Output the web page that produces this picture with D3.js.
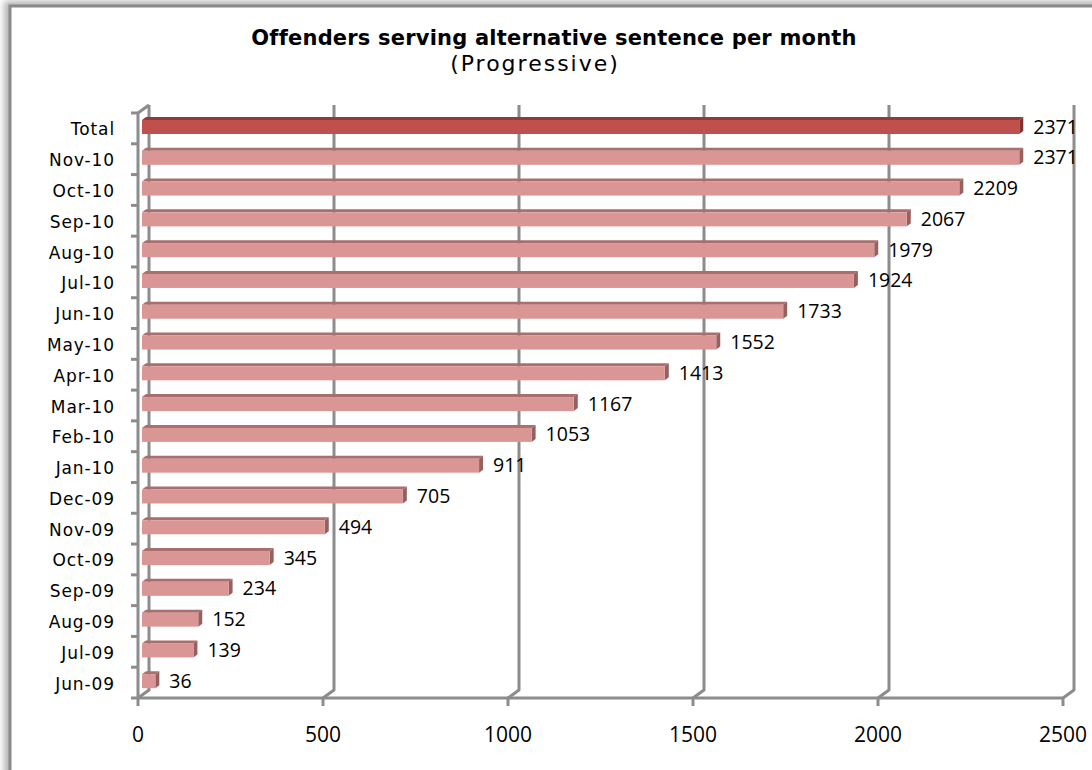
<!DOCTYPE html>
<html>
<head>
<meta charset="utf-8">
<script src="https://cdn.jsdelivr.net/npm/d3@7"></script>
<style>
  html, body { margin: 0; padding: 0; background: #fff; }
  svg { display: block; }
</style>
</head>
<body>
<svg id="chart" width="1092" height="770"></svg>
<script>
// Monthly progressive count of offenders serving an alternative sentence
const categories = ["Total", "Nov-10", "Oct-10", "Sep-10", "Aug-10", "Jul-10", "Jun-10",
  "May-10", "Apr-10", "Mar-10", "Feb-10", "Jan-10", "Dec-09", "Nov-09", "Oct-09",
  "Sep-09", "Aug-09", "Jul-09", "Jun-09"];
const values = [2371, 2371, 2209, 2067, 1979, 1924, 1733, 1552, 1413, 1167, 1053,
  911, 705, 494, 345, 234, 152, 139, 36];
const xTicks = [0, 500, 1000, 1500, 2000, 2500];
const titleText = "Offenders serving alternative sentence per month";
const subtitleText = "(Progressive)";

const svg = d3.select("#chart");
const defs = svg.append("defs");

// soft shadow for the outer frame
const shadow = defs.append("filter").attr("id", "frameShadow")
  .attr("x", "-5%").attr("y", "-5%").attr("width", "110%").attr("height", "110%");
shadow.append("feGaussianBlur").attr("stdDeviation", 3);

svg.append("rect")
  .attr("x", 4).attr("y", 1).attr("width", 1110).attr("height", 800)
  .attr("fill", "#b5b5b5").attr("filter", "url(#frameShadow)");
svg.append("rect")
  .attr("x", 10).attr("y", 6).attr("width", 1100).attr("height", 790)
  .attr("fill", "#fff").attr("stroke", "#8a8a8a").attr("stroke-width", 3);

// --- scales: front plane of the floor, back wall, and bar plane ---
const floorY = 698, wallTop = 105;
const depthX = 11, depthY = -8;
const xFront = d3.scaleLinear().domain([0, 2500]).range([138, 1063]);
const xBar = d3.scaleLinear().domain([0, 2500]).range([142, 1067]);
const y = d3.scaleBand().domain(categories).range([113, floorY]).padding(0);

const gridColor = "#8c8c8c";
const grid = svg.append("g").attr("fill", "none").attr("stroke", gridColor)
  .attr("stroke-width", 3).attr("stroke-linejoin", "round");

// back-wall gridlines with their floor segment back to the front edge
grid.selectAll("path.gl").data(xTicks).join("path").attr("class", "gl")
  .attr("d", t => {
    const xb = xFront(t) + depthX;
    return `M${xb},${wallTop}L${xb},${floorY + depthY}L${xFront(t)},${floorY}`;
  });

// front floor edge and its tick marks
grid.append("line")
  .attr("x1", xFront(0)).attr("x2", xFront(2500))
  .attr("y1", floorY).attr("y2", floorY);
grid.selectAll("line.xt").data(xTicks).join("line").attr("class", "xt")
  .attr("x1", t => xFront(t)).attr("x2", t => xFront(t))
  .attr("y1", floorY).attr("y2", floorY + 8);

// left front edge of the side wall and category ticks
const yTop = y.range()[0];
grid.append("path")
  .attr("d", `M${xFront(0)},${floorY}L${xFront(0)},${yTop}L${xFront(0) + depthX},${yTop + depthY}`);
const bounds = categories.map(c => y(c)).concat([floorY]);
grid.selectAll("line.yt").data(bounds).join("line").attr("class", "yt")
  .attr("x1", xFront(0) - 7).attr("x2", xFront(0))
  .attr("y1", d => d).attr("y2", d => d);

// --- 3D bars ---
const barDX = 4, barDY = -3;
const faceTop = 7, faceH = 14;
const palette = {
  normal: { front: "#d99694", top: "#a96e6d", side: "#96605f" },
  total: { front: "#c0504d", top: "#8e3b39", side: "#7d3432" }
};

const rows = categories.map((c, i) => ({ cat: c, value: values[i], style: c === "Total" ? palette.total : palette.normal }));

const bars = svg.append("g").selectAll("g").data(rows).join("g");
bars.each(function(d) {
  const g = d3.select(this);
  const x0 = xBar(0), x1 = xBar(d.value);
  const yf = y(d.cat) + faceTop;
  // top face
  g.append("path")
    .attr("d", `M${x0},${yf}L${x0 + barDX},${yf + barDY}L${x1 + barDX},${yf + barDY}L${x1},${yf}Z`)
    .attr("fill", d.style.top);
  // right side face
  g.append("path")
    .attr("d", `M${x1},${yf}L${x1 + barDX},${yf + barDY}L${x1 + barDX},${yf + barDY + faceH}L${x1},${yf + faceH}Z`)
    .attr("fill", d.style.side);
  // front face
  g.append("rect")
    .attr("x", x0).attr("y", yf).attr("width", x1 - x0).attr("height", faceH)
    .attr("fill", d.style.front);
});

// value labels
svg.append("g").selectAll("text").data(rows).join("text")
  .attr("x", d => xBar(d.value) + barDX + 10)
  .attr("y", d => y(d.cat) + 13)
  .attr("dominant-baseline", "central")
  .attr("font-family", "'Open Sans', sans-serif")
  .attr("font-size", 19.5)
  .attr("fill", "#000")
  .text(d => d.value);

// category labels
svg.append("g").selectAll("text").data(categories).join("text")
  .attr("x", 115)
  .attr("y", c => y(c) + y.bandwidth() / 2 + 1)
  .attr("text-anchor", "end")
  .attr("dominant-baseline", "central")
  .attr("font-family", "'DejaVu Sans', sans-serif")
  .attr("font-size", 17)
  .attr("letter-spacing", 0.9)
  .attr("fill", "#000")
  .text(c => c);

// x axis labels
svg.append("g").selectAll("text").data(xTicks).join("text")
  .attr("x", t => xFront(t))
  .attr("y", 734)
  .attr("text-anchor", "middle")
  .attr("dominant-baseline", "central")
  .attr("font-family", "'Open Sans', sans-serif")
  .attr("font-size", 21)
  .attr("fill", "#000")
  .text(t => t);

// titles
svg.append("text")
  .attr("x", 554).attr("y", 45)
  .attr("text-anchor", "middle")
  .attr("font-family", "'DejaVu Sans', sans-serif")
  .attr("font-weight", "bold")
  .attr("font-size", 21)
  .attr("letter-spacing", 0.2)
  .attr("fill", "#000")
  .text(titleText);
svg.append("text")
  .attr("x", 535).attr("y", 71)
  .attr("text-anchor", "middle")
  .attr("font-family", "'DejaVu Sans', sans-serif")
  .attr("font-size", 22)
  .attr("letter-spacing", 2)
  .attr("fill", "#000")
  .text(subtitleText);
</script>
</body>
</html>
